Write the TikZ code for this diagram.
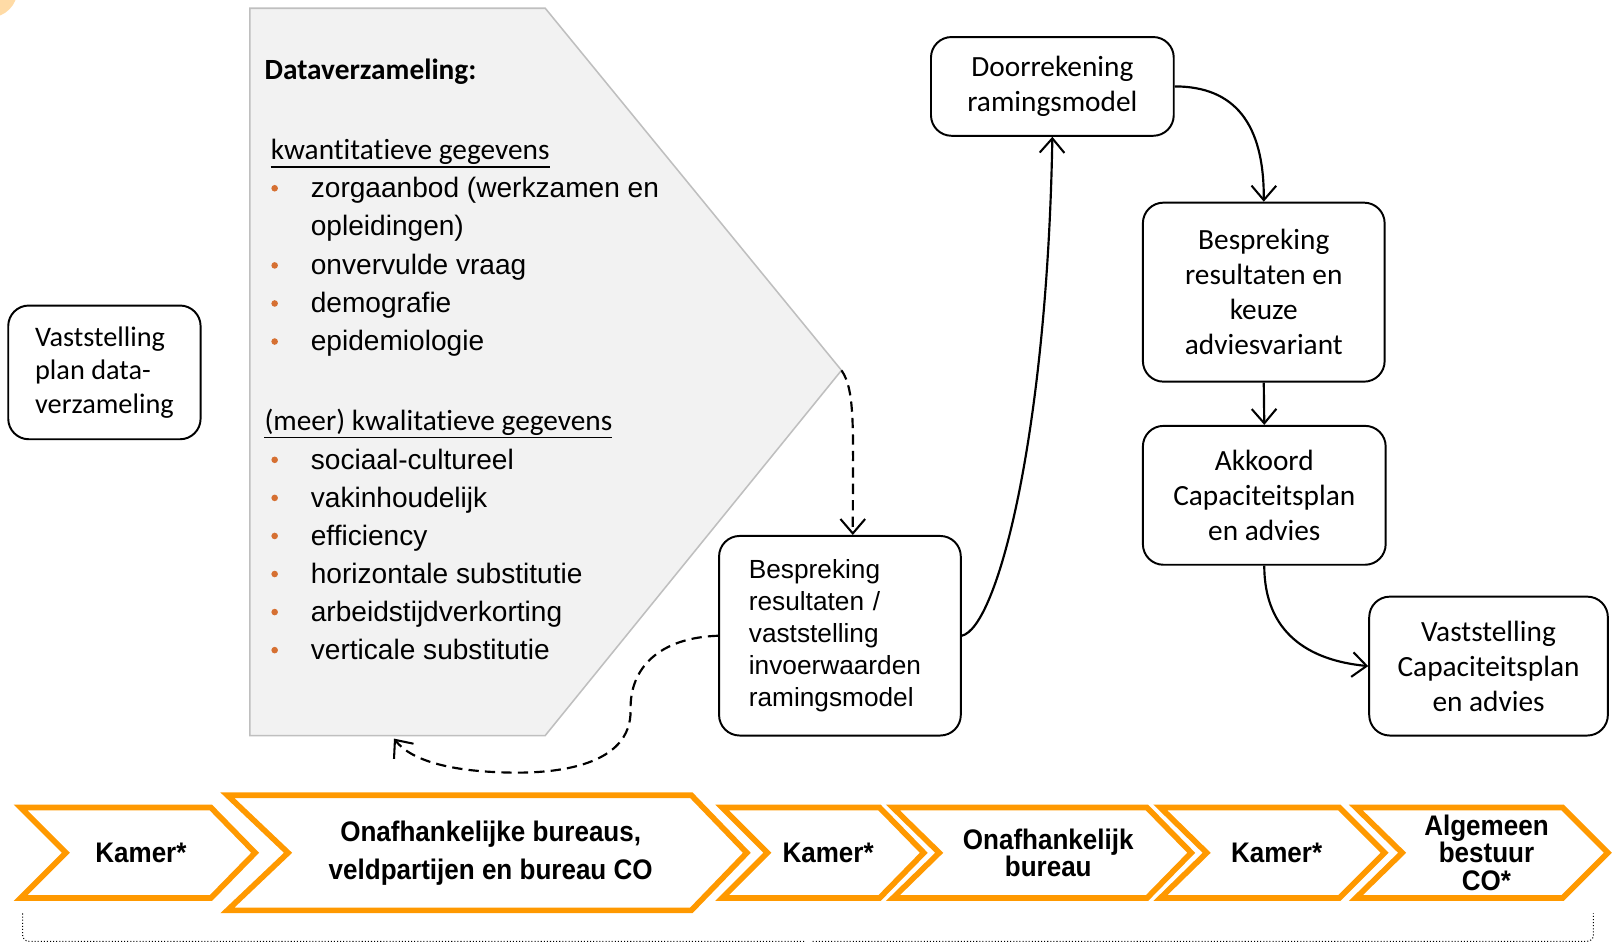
\documentclass[tikz,border=0pt]{standalone}
\usepackage{fontspec}
\setmainfont{Carlito}[Ligatures=NoCommon]
\newfontfamily\arialf{Liberation Sans}
\newfontfamily\arialn[FakeStretch=0.92]{Liberation Sans}
\usetikzlibrary{arrows.meta}
\definecolor{chevorange}{RGB}{255,153,0}
\definecolor{bulorange}{RGB}{214,112,50}
\definecolor{shapegray}{RGB}{242,242,242}
\definecolor{shapeedge}{RGB}{191,191,191}
\begin{document}
\begin{tikzpicture}[x=1pt,y=-1pt,
  box/.style={draw=black, line width=1.9pt, rounded corners=20pt, fill=white, inner sep=0pt, align=center, font=\fontsize{28.5}{34}\selectfont},
  arr/.style={-{Straight Barb[length=14pt,width=24pt,line width=2pt]}, line width=2.1pt},
  dsh/.style={arr, dash pattern=on 10pt off 6pt},
  chev/.style={draw=chevorange, line width=5.5pt, line join=miter, fill=white},
  chevtxt/.style={inner sep=0pt, align=center, font=\arialn\bfseries\fontsize{27.5}{27}\selectfont},
  hdr/.style={inner sep=0pt, anchor=base west, font=\fontsize{28.5}{34}\selectfont},
  li/.style={inner sep=0pt, anchor=base west, font=\arialf\fontsize{27.3}{37}\selectfont},
  bul/.style={fill=bulorange}
]
\useasboundingbox (0,0) rectangle (1568,918);
\begin{scope}
  \clip (0,0) rectangle (1568,918);
  \fill[chevorange!35] (-10,-10) circle (27pt);
\end{scope}

% gray data collection shape
\coordinate (tip) at (818,360);
\draw[fill=shapegray, draw=shapeedge, line width=1.5pt] (243,8) -- (530,8) -- (tip) -- (530,715) -- (243,715) -- cycle;

\node[hdr, font=\bfseries\fontsize{28.5}{34}\selectfont] (dvz) at (257,77) {Dataverzameling:};
\node[hdr] (kwan) at (263,155) {kwantitatieve gegevens};
\draw[line width=1.5pt] ([yshift=-2pt]kwan.south west) -- ([yshift=-2pt]kwan.south east);
\node[li] (l1) at (302,192) {zorgaanbod (werkzamen en};
\node[li] (l1b) at (302,229) {opleidingen)};
\node[li] (l2) at (302,267) {onvervulde vraag};
\node[li] (l3) at (302,304) {demografie};
\node[li] (l4) at (302,341) {epidemiologie};
\foreach \y in {192,267,304,341} \fill[bul] (267,\y-9) circle (3.2pt);

\node[hdr] (kwal) at (257,418) {(meer) kwalitatieve gegevens};
\draw[line width=1.5pt] ([yshift=-2pt]kwal.south west) -- ([yshift=-2pt]kwal.south east);
\node[li] (m1) at (302,456) {sociaal-cultureel};
\node[li] (m2) at (302,493) {vakinhoudelijk};
\node[li] (m3) at (302,530) {efficiency};
\node[li] (m4) at (302,567) {horizontale substitutie};
\node[li] (m5) at (302,604) {arbeidstijdverkorting};
\node[li] (m6) at (302,641) {verticale substitutie};
\foreach \y in {456,493,530,567,604,641} \fill[bul] (267,\y-9) circle (3.2pt);

% boxes
\node[box, align=left, minimum width=187pt, minimum height=130pt, font=\fontsize{27.5}{32.5}\selectfont] (plan) at (101.5,362) {Vaststelling\\plan data-\\verzameling};
\node[box, align=left, text width=177pt, minimum width=235pt, minimum height=194pt, font=\arialf\fontsize{25.5}{31}\selectfont] (bvi) at (816.5,618) {Bespreking\\resultaten /\\vaststelling\\invoerwaarden\\ramingsmodel};
\node[box, minimum width=236pt, minimum height=96pt] (door) at (1023,84) {Doorrekening\\ramingsmodel};
\node[box, minimum width=235pt, minimum height=174pt] (bres) at (1228.5,284) {Bespreking\\resultaten en\\keuze\\adviesvariant};
\node[box, minimum width=236pt, minimum height=135pt] (akk) at (1229,481.5) {Akkoord\\Capaciteitsplan\\en advies};
\node[box, minimum width=232pt, minimum height=135pt] (vast) at (1447,647.5) {Vaststelling\\Capaciteitsplan\\en advies};

% connectors
\draw[arr] (bvi.east) .. controls (970,610) and (1018,420) .. (door.south);
\draw[arr] (door.east) .. controls (1200,84) and (1229,120) .. (bres.north);
\draw[arr] (bres.south) -- (akk.north);
\draw[arr] (akk.south) .. controls (1229,615) and (1272,642) .. (vast.west);
\draw[dsh] (tip) .. controls (832,380) and (829,420) .. ([xshift=12.5pt]bvi.north);
\coordinate (dtip) at (383,718);
\draw[dsh] (bvi.west) .. controls (640,620) and (612,650) .. (613,690) .. controls (614,745) and (540,752) .. (495,751) .. controls (440,750) and (400,740) .. (dtip);

% chevrons
\draw[chev] (20,785) -- (205,785) -- (248,829) -- (205,873) -- (20,873) -- (64,829) -- cycle;
\draw[chev] (221,773) -- (672,773) -- (726,829) -- (672,885) -- (221,885) -- (280,829) -- cycle;
\draw[chev] (702,785) -- (855,785) -- (898,829) -- (855,873) -- (702,873) -- (746,829) -- cycle;
\draw[chev] (868,785) -- (1115,785) -- (1158,829) -- (1115,873) -- (868,873) -- (913,829) -- cycle;
\draw[chev] (1128,785) -- (1302,785) -- (1346,829) -- (1302,873) -- (1128,873) -- (1173,829) -- cycle;
\draw[chev] (1318,785) -- (1519,785) -- (1563,829) -- (1519,873) -- (1318,873) -- (1363,829) -- cycle;

\node[chevtxt] (k1) at (137,829) {Kamer*};
\node[chevtxt, font=\arialn\bfseries\fontsize{27.5}{37}\selectfont] (ob) at (477,829) {Onafhankelijke bureaus,\\veldpartijen en bureau CO};
\node[chevtxt] (k2) at (805,829) {Kamer*};
\node[chevtxt] (ob2) at (1019,829) {Onafhankelijk\\bureau};
\node[chevtxt] (k3) at (1241,829) {Kamer*};
\node[chevtxt] (ab) at (1445,829) {Algemeen\\bestuur\\CO*};

% dotted bracket
\draw[dotted, line width=1pt, rounded corners=6pt] (22,888) -- (22,915) -- (783,915);
\draw[dotted, line width=1pt, rounded corners=6pt] (790,915) -- (1549,915) -- (1549,888);
\end{tikzpicture}
\end{document}
